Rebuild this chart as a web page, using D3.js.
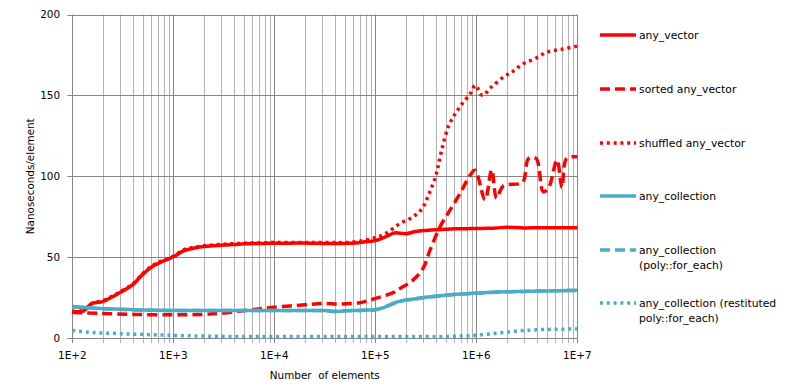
<!DOCTYPE html>
<html>
<head>
<meta charset="utf-8">
<script src="https://cdn.jsdelivr.net/npm/d3@7"></script>
<style>
  html, body { margin: 0; padding: 0; background: #fff; }
  svg { display: block; }
  text { font-family: "DejaVu Sans", Verdana, sans-serif; fill: #000; }
</style>
</head>
<body>
<svg id="chart" width="795" height="390"></svg>
<script>
// ---------- DATA ----------
const nGrid = [100,126,158,200,251,316,398,501,631,794,
  1000,1259,1585,1995,2512,3162,3981,5012,6310,7943,
  10000,12589,15849,19953,25119,31623,39811,50119,63096,79433,
  100000,125893,158489,199526,251189,316228,398107,501187,630957,794328,
  1000000,1258925,1584893,1995262,2511886,3162278,3981072,5011872,6309573,7943282,
  10000000];

const anyVector = [16,16.5,21.5,22.5,25.5,29,33,39.5,44.5,47.5,
  50.2,53.8,55.5,56.5,57,57.5,57.8,58.2,58.4,58.5,
  58.6,58.6,58.7,58.7,58.6,58.5,58.4,58.5,58.8,59.5,
  60.2,62.5,65,64.5,65.8,66.5,67,67.2,67.5,67.6,
  67.7,67.8,68,68.5,68.3,68,68.2,68.2,68.2,68.2,
  68.2];

const sortedN = [100,180,400,1000,2000,3000,4500,7000,10000,20000,
  30000,45000,70000,95000,150000,176000,236000,297000,348000,437000,
  549000,690000,867000,971000,1220000,1420000,1590000,1850000,2700000,2950000,
  3300000,3900000,4600000,5200000,6300000,7050000,7850000,10000000];
const sortedVector = [15.8,15.3,14.6,14.3,14.6,15.3,16.5,18,19,20.5,
  21.3,21,21.8,24,28,30.6,35.8,43,54.3,68.7,
  79,89.3,100.6,103.7,85.5,104,86.5,94,95.5,97.5,
  111,111,90.5,93,110,93,111,112];

const shuffledN = [100,126,158,200,251,316,398,501,631,794,
  1000,1259,1585,1995,2512,3162,3981,5012,6310,7943,
  10000,15849,25119,39811,50119,70000,100000,130000,176000,236000,
  290000,340000,400000,450000,540000,690000,870000,980000,1150000,1400000,
  1900000,2300000,2900000,3800000,5000000,7000000,10000000];
const shuffledVector = [16.5,17,21.5,23,26,29.5,33.5,40,45,48,
  50.5,54.5,56,57,57.6,58,58.3,58.6,58.8,58.9,
  59,59,59,59,59,59.8,62,65,70.8,74.9,
  80,89,101,115,132,143,151,156.2,150,155,
  161.7,164.8,169.5,172.6,176.7,178.5,180.5];

const anyCollection = [19.5,19,18.5,18.2,18,17.7,17.5,17.3,17.2,17.1,
  17,17,17,17,17,17,17,17,17,17,
  17,17,17,17,17,17,16.3,16.8,17,17.2,
  17.5,19.3,22,23.5,24.3,25.2,25.8,26.5,27,27.4,
  27.8,28.1,28.4,28.6,28.7,28.9,29,29.1,29.2,29.3,
  29.5];

const anyCollectionPoly = [19.3,18.9,18.4,18.1,17.9,17.6,17.4,17.3,17.2,17.1,
  17,17,17,17,17,17,17,17,17,17,
  17,17,17,17,17,17,16.5,16.8,17,17.2,
  17.5,19.2,21.8,23.4,24.2,25.1,25.8,26.4,26.9,27.3,
  27.7,28,28.3,28.5,28.7,28.8,29,29.1,29.2,29.3,
  29.4];

const restituted = [4.7,4,3.4,3.1,2.9,2.6,2.4,2.2,2,1.8,
  1.6,1.4,1.3,1.2,1.1,1,0.9,0.9,0.9,0.9,
  0.9,0.9,0.9,0.9,0.9,0.9,0.9,0.9,0.9,0.9,
  0.9,0.9,0.9,0.9,0.9,0.9,0.8,0.9,1.1,1.3,
  1.7,2.3,3,3.6,4.3,4.7,5.1,5.3,5.4,5.5,
  5.6];

const yTicks = [0,50,100,150,200];
const xMajor = [100,1000,10000,100000,1000000,10000000];
const xTickLabels = ["1E+2","1E+3","1E+4","1E+5","1E+6","1E+7"];

const RED = "#FF0000", BLUE = "#4BACC6";
const DASH = "10,5", DOT = "3,3.8";
const series = [
  {name:["any_vector"], xs:nGrid, ys:anyVector, color:RED, dash:null, smooth:false},
  {name:["sorted any_vector"], xs:sortedN, ys:sortedVector, color:RED, dash:DASH, smooth:true},
  {name:["shuffled any_vector"], xs:shuffledN, ys:shuffledVector, color:RED, dash:DOT, smooth:true},
  {name:["any_collection"], xs:nGrid, ys:anyCollection, color:BLUE, dash:null, smooth:false},
  {name:["any_collection","(poly::for_each)"], xs:nGrid, ys:anyCollectionPoly, color:BLUE, dash:DASH, smooth:false},
  {name:["any_collection (restituted","poly::for_each)"], xs:nGrid, ys:restituted, color:BLUE, dash:DOT, smooth:false}
];

// ---------- LAYOUT ----------
const svg = d3.select("#chart");
const L = 72.3, R = 577.3, T = 14.5, B = 338;
const x = d3.scaleLog().domain([100, 1e7]).range([L, R]);
const y = d3.scaleLinear().domain([0, 200]).range([B, T]);

const grid = svg.append("g");
const allTicks = x.ticks();
const isMajor = v => Math.abs(Math.log10(v) - Math.round(Math.log10(v))) < 1e-9;

grid.selectAll("line.minor").data(allTicks.filter(v => !isMajor(v))).enter()
  .append("line")
  .attr("x1", d => Math.round(x(d)) + 0.5).attr("x2", d => Math.round(x(d)) + 0.5)
  .attr("y1", T).attr("y2", B + 5)
  .attr("stroke", "#B3B3B3").attr("stroke-width", 1);
grid.selectAll("line.major").data(xMajor).enter()
  .append("line")
  .attr("x1", d => Math.round(x(d)) + 0.5).attr("x2", d => Math.round(x(d)) + 0.5)
  .attr("y1", T).attr("y2", B + 5)
  .attr("stroke", "#868686").attr("stroke-width", 1);
grid.selectAll("line.h").data(yTicks).enter()
  .append("line")
  .attr("x1", L - 5).attr("x2", R)
  .attr("y1", d => Math.round(y(d)) + 0.5).attr("y2", d => Math.round(y(d)) + 0.5)
  .attr("stroke", "#868686").attr("stroke-width", 1);

const fs = "10.4px";
svg.append("g").selectAll("text").data(yTicks).enter()
  .append("text")
  .attr("x", 60).attr("y", d => y(d)).attr("dy", "0.36em")
  .attr("text-anchor", "end").style("font-size", fs)
  .text(d => d);

svg.append("g").selectAll("text").data(xMajor).enter()
  .append("text")
  .attr("x", d => x(d)).attr("y", 359)
  .attr("text-anchor", "middle").style("font-size", fs)
  .text((d, i) => xTickLabels[i]);

svg.append("text")
  .attr("x", (L + R) / 2).attr("y", 379)
  .attr("text-anchor", "middle").style("font-size", fs)
  .attr("xml:space", "preserve")
  .text("Number  of elements");

svg.append("text")
  .attr("transform", `translate(34,${(T + B) / 2}) rotate(-90)`)
  .attr("text-anchor", "middle").style("font-size", fs)
  .text("Nanoseconds/element");

// ---------- SERIES ----------
const lineMono = d3.line().x(d => x(d[0])).y(d => y(d[1])).curve(d3.curveMonotoneX);
const lineSmooth = d3.line().x(d => x(d[0])).y(d => y(d[1])).curve(d3.curveCatmullRom.alpha(0.5));

const plot = svg.append("g");
series.forEach(s => {
  const pts = s.xs.map((n, i) => [n, s.ys[i]]);
  plot.append("path")
    .attr("d", (s.smooth ? lineSmooth : lineMono)(pts))
    .attr("fill", "none")
    .attr("stroke", s.color)
    .attr("stroke-width", 3.5)
    .attr("stroke-linejoin", "round")
    .attr("stroke-dasharray", s.dash);
});

// ---------- LEGEND ----------
const legendY = [35, 89, 143, 196, 250, 303];
const lg = svg.append("g");
series.forEach((s, i) => {
  const yy = legendY[i];
  lg.append("line")
    .attr("x1", 600).attr("x2", 636)
    .attr("y1", yy).attr("y2", yy)
    .attr("stroke", s.color).attr("stroke-width", 3.5)
    .attr("stroke-dasharray", s.dash);
  s.name.forEach((t, j) => {
    lg.append("text")
      .attr("x", 639).attr("y", yy + j * 15.5).attr("dy", "0.36em")
      .style("font-size", "10.8px")
      .text(t);
  });
});
</script>
</body>
</html>
